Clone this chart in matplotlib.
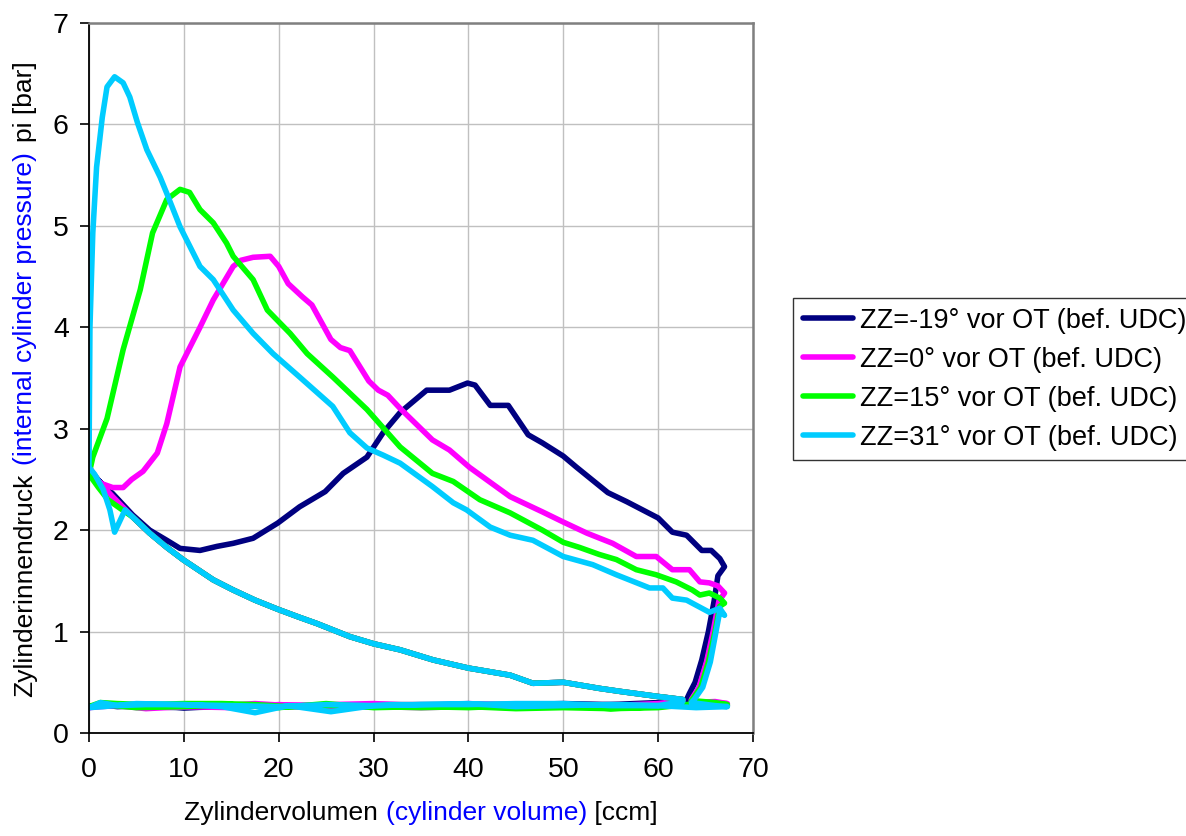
import matplotlib
matplotlib.use("Agg")
import matplotlib.pyplot as plt

plt.rcParams['font.family'] = ['Liberation Sans', 'DejaVu Sans']

# shared compression line (piston going up, V falling)
COMP_V = [62.6, 60, 56, 53.8, 50, 46.8, 44.4, 40, 36.3, 32.8, 30, 27.5, 24, 22.2,
          19.9, 17.5, 15.2, 13.1, 11.5, 9.9, 8.2, 6.4, 4.6]
COMP_P = [0.33, 0.36, 0.41, 0.44, 0.50, 0.49, 0.57, 0.64, 0.72, 0.82, 0.88, 0.95,
          1.08, 1.14, 1.22, 1.31, 1.41, 1.51, 1.61, 1.71, 1.83, 1.97, 2.13]

# gas exchange baseline (out to UDC, back to TDC, out again)
BASE_V = [63.5, 66, 67.3, 64, 60, 55, 50, 45, 40, 35, 30, 25.5, 21, 17.5, 14, 10, 6,
          3, 1.2, 0, 1.5, 5, 10, 15, 20, 25, 30, 35, 40, 45, 50, 55, 60, 62.6]

labels = ['ZZ=-19° vor OT (bef. UDC)', 'ZZ=0° vor OT (bef. UDC)',
          'ZZ=15° vor OT (bef. UDC)', 'ZZ=31° vor OT (bef. UDC)']
colors = ['#000080', '#ff00ff', '#00ff00', '#00ccff']

# ZZ=-19
NAVY_TDC_V = [2.5, 1.2]
NAVY_TDC_P = [2.35, 2.47]
NAVY_V = [0, 1.2, 2.5, 4.6, 6.4, 8.2, 9.6, 11.7, 13.5, 15.2, 17.3, 19.9, 22.2, 24.9,
          26.8, 29.3, 31, 32.8, 35.6, 38, 39.9, 40.7, 42.3, 44.2, 46.3, 47.8, 50,
          51.4, 54.7, 56.7, 60, 61.5, 63, 64.6, 65.6, 66.5, 67, 66.3, 65.9, 65.3,
          64.6, 63.9, 63.3, 63.0]
NAVY_P = [2.6, 2.47, 2.36, 2.15, 2.0, 1.9, 1.82, 1.80, 1.84, 1.87, 1.92, 2.07, 2.23,
          2.38, 2.56, 2.72, 2.96, 3.16, 3.38, 3.38, 3.45, 3.43, 3.23, 3.23, 2.94,
          2.86, 2.73, 2.62, 2.37, 2.28, 2.12, 1.98, 1.95, 1.80, 1.80, 1.72, 1.64,
          1.55, 1.30, 1.00, 0.72, 0.50, 0.39, 0.33]
NAVY_BASE_P = [0.30, 0.28, 0.27, 0.27, 0.27, 0.28, 0.27, 0.28, 0.28, 0.27, 0.27,
               0.26, 0.26, 0.27, 0.26, 0.25, 0.27, 0.26, 0.28, 0.26, 0.27, 0.26,
               0.25, 0.26, 0.27, 0.27, 0.28, 0.28, 0.28, 0.28, 0.29, 0.28, 0.30, 0.32]

# ZZ=0
MAG_TDC_V = [2.5, 1.2]
MAG_TDC_P = [2.33, 2.46]
MAG_V = [0, 1.0, 2.5, 3.6, 4.5, 5.7, 7.2, 8.2, 9.6, 11.7, 13.1, 15.2, 16, 17.3, 19.1,
         20, 21, 22.5, 23.5, 24.5, 25.5, 26.5, 27.5, 28.5, 29.5, 30.5, 31.5, 32.8,
         36.2, 38, 40.1, 44.4, 47.8, 50, 52.5, 55.2, 57.7, 59.8, 61.5, 63.3, 64.4,
         65.4, 66.3, 67, 66.4, 65.8, 65.1, 64.3, 63.5]
MAG_P = [2.62, 2.47, 2.42, 2.42, 2.5, 2.58, 2.76, 3.05, 3.61, 4.0, 4.27, 4.6, 4.66,
         4.69, 4.7, 4.6, 4.43, 4.3, 4.22, 4.05, 3.88, 3.8, 3.77, 3.62, 3.47, 3.38,
         3.33, 3.2, 2.89, 2.79, 2.62, 2.33, 2.18, 2.08, 1.97, 1.87, 1.74, 1.74,
         1.61, 1.61, 1.49, 1.48, 1.45, 1.38, 1.30, 1.00, 0.70, 0.45, 0.33]
MAG_BASE_P = [0.30, 0.31, 0.29, 0.28, 0.27, 0.27, 0.26, 0.27, 0.29, 0.27, 0.29,
              0.28, 0.27, 0.29, 0.27, 0.26, 0.24, 0.27, 0.26, 0.25, 0.28, 0.27,
              0.26, 0.25, 0.28, 0.26, 0.26, 0.25, 0.26, 0.25, 0.27, 0.27, 0.29, 0.32]

# ZZ=15
GREEN_TDC_V = [3.2, 2.0, 1.0]
GREEN_TDC_P = [2.22, 2.30, 2.42]
GREEN_V = [0, 0.4, 1.9, 3.6, 5.4, 6.7, 8.2, 9.6, 10.6, 11.7, 13.1, 14.5, 15.2, 17.3,
           18.8, 21.2, 23, 25.7, 29.3, 32.8, 36.2, 38.4, 41.2, 44.4, 47.8, 50, 51.7,
           53.8, 55.6, 57.7, 59.8, 61.9, 63.6, 64.4, 65.4, 66.5, 67, 66.5, 66, 65.3,
           64.5, 63.6]
GREEN_P = [2.55, 2.72, 3.1, 3.78, 4.37, 4.93, 5.26, 5.36, 5.33, 5.16, 5.03, 4.83,
           4.7, 4.47, 4.17, 3.94, 3.74, 3.51, 3.19, 2.82, 2.56, 2.48, 2.30, 2.17,
           2.0, 1.88, 1.83, 1.76, 1.71, 1.61, 1.56, 1.49, 1.41, 1.36, 1.38, 1.33,
           1.28, 1.25, 1.00, 0.70, 0.45, 0.33]
GREEN_BASE_P = [0.32, 0.30, 0.28, 0.29, 0.25, 0.24, 0.25, 0.24, 0.26, 0.25, 0.26,
                0.27, 0.26, 0.28, 0.29, 0.29, 0.28, 0.29, 0.30, 0.26, 0.28, 0.25,
                0.26, 0.28, 0.25, 0.29, 0.25, 0.26, 0.25, 0.27, 0.27, 0.24, 0.26, 0.30]

# ZZ=31
CYAN_TDC_V = [3.8, 3.3, 2.7, 2.2, 1.5, 0.6]
CYAN_TDC_P = [2.2, 2.1, 1.98, 2.2, 2.4, 2.55]
CYAN_V = [0, 0.1, 0.4, 0.8, 1.4, 1.9, 2.7, 3.6, 4.3, 5.1, 6.1, 7.5, 8.2, 9.6, 11.7,
          13.1, 15.2, 17.3, 19.4, 22.2, 25.7, 27.5, 29.3, 31, 32.8, 36.2, 38.4,
          39.8, 42.3, 44.4, 46.8, 50, 53.1, 55.6, 59.1, 60.5, 61.5, 63, 65.4, 66.5,
          67, 66.5, 66.1, 65.5, 64.7, 63.8]
CYAN_P = [2.62, 4.0, 4.93, 5.58, 6.07, 6.37, 6.47, 6.41, 6.27, 6.02, 5.75, 5.48,
          5.32, 4.99, 4.6, 4.47, 4.17, 3.94, 3.74, 3.51, 3.22, 2.96, 2.81, 2.74,
          2.66, 2.43, 2.27, 2.2, 2.03, 1.95, 1.9, 1.74, 1.66, 1.56, 1.43, 1.43,
          1.33, 1.31, 1.19, 1.23, 1.16, 1.20, 1.00, 0.70, 0.45, 0.33]
CYAN_BASE_P = [0.30, 0.27, 0.26, 0.25, 0.27, 0.28, 0.27, 0.26, 0.29, 0.28, 0.27,
               0.21, 0.27, 0.20, 0.26, 0.28, 0.28, 0.27, 0.30, 0.25, 0.26, 0.29,
               0.28, 0.27, 0.26, 0.28, 0.27, 0.28, 0.28, 0.29, 0.29, 0.27, 0.27, 0.31]

series = [
    (NAVY_TDC_V, NAVY_TDC_P, NAVY_V, NAVY_P, NAVY_BASE_P),
    (MAG_TDC_V, MAG_TDC_P, MAG_V, MAG_P, MAG_BASE_P),
    (GREEN_TDC_V, GREEN_TDC_P, GREEN_V, GREEN_P, GREEN_BASE_P),
    (CYAN_TDC_V, CYAN_TDC_P, CYAN_V, CYAN_P, CYAN_BASE_P),
]

fig = plt.figure(figsize=(11.86, 8.36), dpi=100)
ax = fig.add_axes([89 / 1186, 1 - 733 / 836, 664 / 1186, 710 / 836])

lines = []
for (tv, tp, ev, ep, bp), lab, col in zip(series, labels, colors):
    # one closed loop: compression -> TDC -> expansion -> blowdown -> gas exchange
    vv = COMP_V + tv + ev + BASE_V
    pp = COMP_P + tp + ep + bp
    ln, = ax.plot(vv, pp, color=col, lw=4.0, label=lab,
                  solid_joinstyle='round', solid_capstyle='round')
    lines.append(ln)

ax.set_xlim(0, 70)
ax.set_ylim(0, 7)
ax.set_xticks(range(0, 71, 10))
ax.set_yticks(range(0, 8))
ax.grid(True, color='#c0c0c0', lw=1.0)
ax.set_axisbelow(True)
ax.tick_params(axis='both', direction='out', length=6.5, width=1.2, labelsize=20.5,
               color='black')
ax.tick_params(axis='y', pad=8)
ax.tick_params(axis='x', pad=11)
for s in ['left', 'bottom']:
    ax.spines[s].set_color('black')
    ax.spines[s].set_linewidth(1.3)
for s in ['top', 'right']:
    ax.spines[s].set_color('#808080')
    ax.spines[s].set_linewidth(1.8)

leg = fig.legend(handles=lines, loc='upper left',
                 bbox_to_anchor=(793 / 1186, 1 - 298 / 836),
                 fontsize=19.5, frameon=True, fancybox=False, handlelength=1.85,
                 handletextpad=0.25, labelspacing=0.48, borderpad=0.36,
                 borderaxespad=0, edgecolor='black')
leg.get_frame().set_linewidth(1.0)
for h in leg.get_lines():
    h.set_linewidth(4.0)

# y label: three pieces stacked along the left edge
fig.text(25 / 1186, 1 - 697 / 836, 'Zylinderinnendruck', rotation=90,
         ha='center', va='bottom', fontsize=19, color='black')
fig.text(25 / 1186, 1 - 465 / 836, '(internal cylinder pressure)', rotation=90,
         ha='center', va='bottom', fontsize=19, color='#0000ff')
fig.text(25 / 1186, 1 - 142 / 836, 'pi [bar]', rotation=90,
         ha='center', va='bottom', fontsize=19, color='black')

# x label pieces laid out left to right, centred under the axes
parts = [('Zylindervolumen ', 'black'), ('(cylinder volume)', '#0000ff'),
         (' [ccm]', 'black')]
renderer = fig.canvas.get_renderer()
texts = []
for txt, col in parts:
    t = fig.text(0, 1 - 820 / 836, txt, fontsize=19, color=col, ha='left',
                 va='baseline')
    texts.append(t)
widths = [t.get_window_extent(renderer).width for t in texts]
x0 = 421 - sum(widths) / 2
for t, w in zip(texts, widths):
    t.set_x(x0 / 1186)
    x0 += w

fig.savefig('out.png', dpi=100)
